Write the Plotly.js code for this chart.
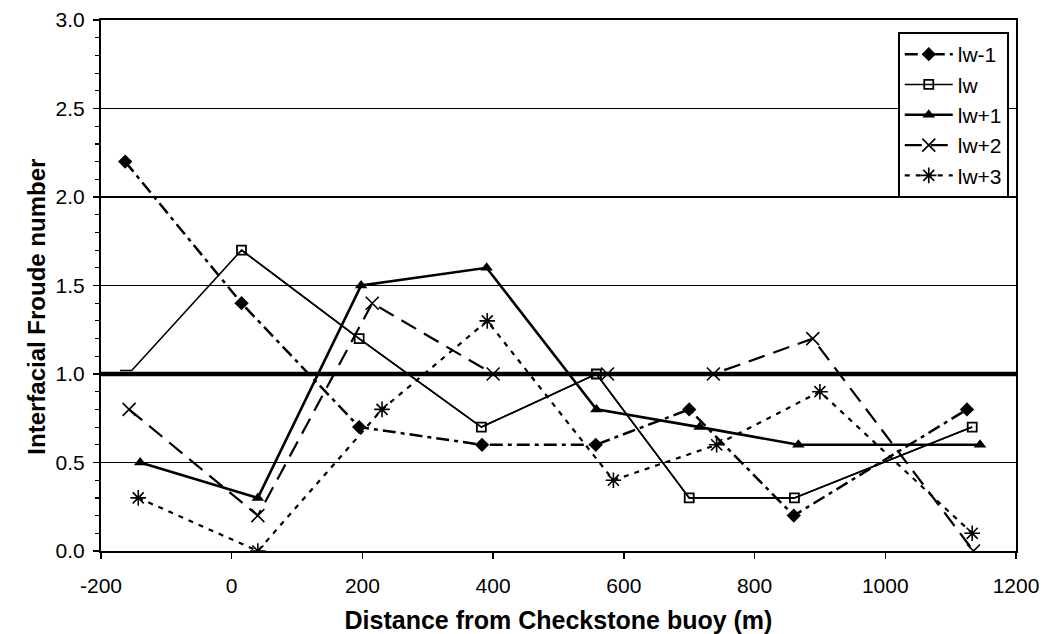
<!DOCTYPE html>
<html>
<head>
<meta charset="utf-8">
<script src="https://cdn.plot.ly/plotly-3.0.1.min.js"></script>
<style>html,body{margin:0;padding:0;background:#fff}#chart{width:1044px;height:634px}</style>
</head>
<body>
<div id="chart"></div>
<script>
// Data
const seriesNames = ["lw-1", "lw", "lw+1", "lw+2", "lw+3"];
const xLw_1 = [-163, 15, 195, 383, 557, 700, 860, 1125];
const yLw_1 = [2.2, 1.4, 0.7, 0.6, 0.6, 0.8, 0.2, 0.8];
const xLw = [-171, -153, 15, 195, 382, 558, 700, 861, 1133];
const yLw = [1.02, 1.02, 1.7, 1.2, 0.7, 1.0, 0.3, 0.3, 0.7];
const xLw1 = [-140, 40, 198, 390, 558, 716, 867, 1145];
const yLw1 = [0.5, 0.3, 1.5, 1.6, 0.8, 0.7, 0.6, 0.6];
const xLw2 = [-157, 40, 215, 400, 575, 737, 889, 1135];
const yLw2 = [0.8, 0.2, 1.4, 1.0, 1.0, 1.0, 1.2, 0.0];
const xLw3 = [-143, 40, 230, 391, 584, 742, 900, 1133];
const yLw3 = [0.3, 0.0, 0.8, 1.3, 0.4, 0.6, 0.9, 0.1];
const criticalFroude = 1.0;
const xTicks = [-200, 0, 200, 400, 600, 800, 1000, 1200];
const yTicks = [0.0, 0.5, 1.0, 1.5, 2.0, 2.5, 3.0];
const xTitle = "Distance from Checkstone buoy (m)";
const yTitle = "Interfacial Froude number";

const FONT = "Liberation Sans, Arial, sans-serif";

// the first two lw points are drawn as line only (no marker visible in the reference)
const lwMarkerStart = 2;

const traces = [
  {x: xLw_1, y: yLw_1, name: seriesNames[0], legendgroup: "a", mode: "lines+markers",
   line: {color: "#000", width: 2.5, dash: "13px,5px,4px,5px"},
   marker: {symbol: "diamond", size: 11, color: "#000"}},
  {x: xLw, y: yLw, name: seriesNames[1], legendgroup: "b", mode: "lines", showlegend: false,
   line: {color: "#000", width: 1.6}, hoverinfo: "skip"},
  {x: xLw.slice(lwMarkerStart), y: yLw.slice(lwMarkerStart), name: seriesNames[1], legendgroup: "b", mode: "lines+markers",
   line: {color: "#000", width: 1.6},
   marker: {symbol: "square-open", size: 9, color: "#000", line: {width: 1.8}}},
  {x: xLw1, y: yLw1, name: seriesNames[2], legendgroup: "c", mode: "lines+markers",
   line: {color: "#000", width: 2.6},
   marker: {symbol: "triangle-up", size: 11, color: "#000"}},
  {x: xLw2, y: yLw2, name: seriesNames[3], legendgroup: "d", mode: "lines+markers",
   line: {color: "#000", width: 2.2, dash: "17px,9px"},
   marker: {symbol: "x-thin-open", size: 13, color: "#000", line: {width: 1.6, color: "#000"}}},
  {x: xLw3, y: yLw3, name: seriesNames[4], legendgroup: "e", mode: "lines+markers",
   line: {color: "#000", width: 2.2, dash: "5px,6px"},
   marker: {symbol: "asterisk-open", size: 13, color: "#000", line: {width: 1.6, color: "#000"}}}
];

const layout = {
  width: 1044, height: 634,
  margin: {l: 101, r: 28, t: 20, b: 83},
  paper_bgcolor: "#fff", plot_bgcolor: "#fff",
  font: {family: FONT, color: "#000", size: 21},
  showlegend: true,
  legend: {
    x: 0.871, y: 0.977, xanchor: "left", yanchor: "top",
    bgcolor: "#fff", bordercolor: "#000", borderwidth: 1.8,
    font: {family: FONT, size: 21, color: "#000"},
    tracegroupgap: 0, itemwidth: 48, traceorder: "grouped"
  },
  xaxis: {
    range: [-200, 1200], tickvals: xTicks, ticktext: xTicks.map(String),
    showgrid: false, zeroline: false,
    showline: true, linecolor: "#000", linewidth: 2, mirror: true,
    ticks: "outside", ticklen: 6, tickwidth: 1.5, tickcolor: "#000",
    ticklabelstandoff: 9,
    tickfont: {family: FONT, size: 21},
    title: {text: "<b>" + xTitle + "</b>", font: {family: FONT, size: 25}, standoff: 15}
  },
  yaxis: {
    range: [0, 3], tickvals: yTicks, ticktext: yTicks.map(v => v.toFixed(1)),
    showgrid: true, gridcolor: "#000", gridwidth: 1.8, zeroline: false,
    showline: true, linecolor: "#000", linewidth: 2, mirror: true,
    ticks: "outside", ticklen: 6, tickwidth: 1.5, tickcolor: "#000",
    ticklabelstandoff: 4,
    minor: {dtick: 0.1, ticks: "outside", ticklen: 4, tickwidth: 1.2, tickcolor: "#000", showgrid: false},
    tickfont: {family: FONT, size: 21}
  },
  annotations: [
    {text: "<b>" + yTitle + "</b>", xref: "paper", yref: "paper", x: -0.07, y: 0.46,
     xanchor: "center", yanchor: "middle", textangle: -90, showarrow: false,
     font: {family: FONT, size: 24, color: "#000"}}
  ],
  shapes: [
    {type: "line", xref: "paper", yref: "y", x0: 0, x1: 1, y0: criticalFroude, y1: criticalFroude,
     line: {color: "#000", width: 4.5}, layer: "below"}
  ]
};

Plotly.newPlot("chart", traces, layout, {displayModeBar: false, staticPlot: true});
</script>
</body>
</html>
